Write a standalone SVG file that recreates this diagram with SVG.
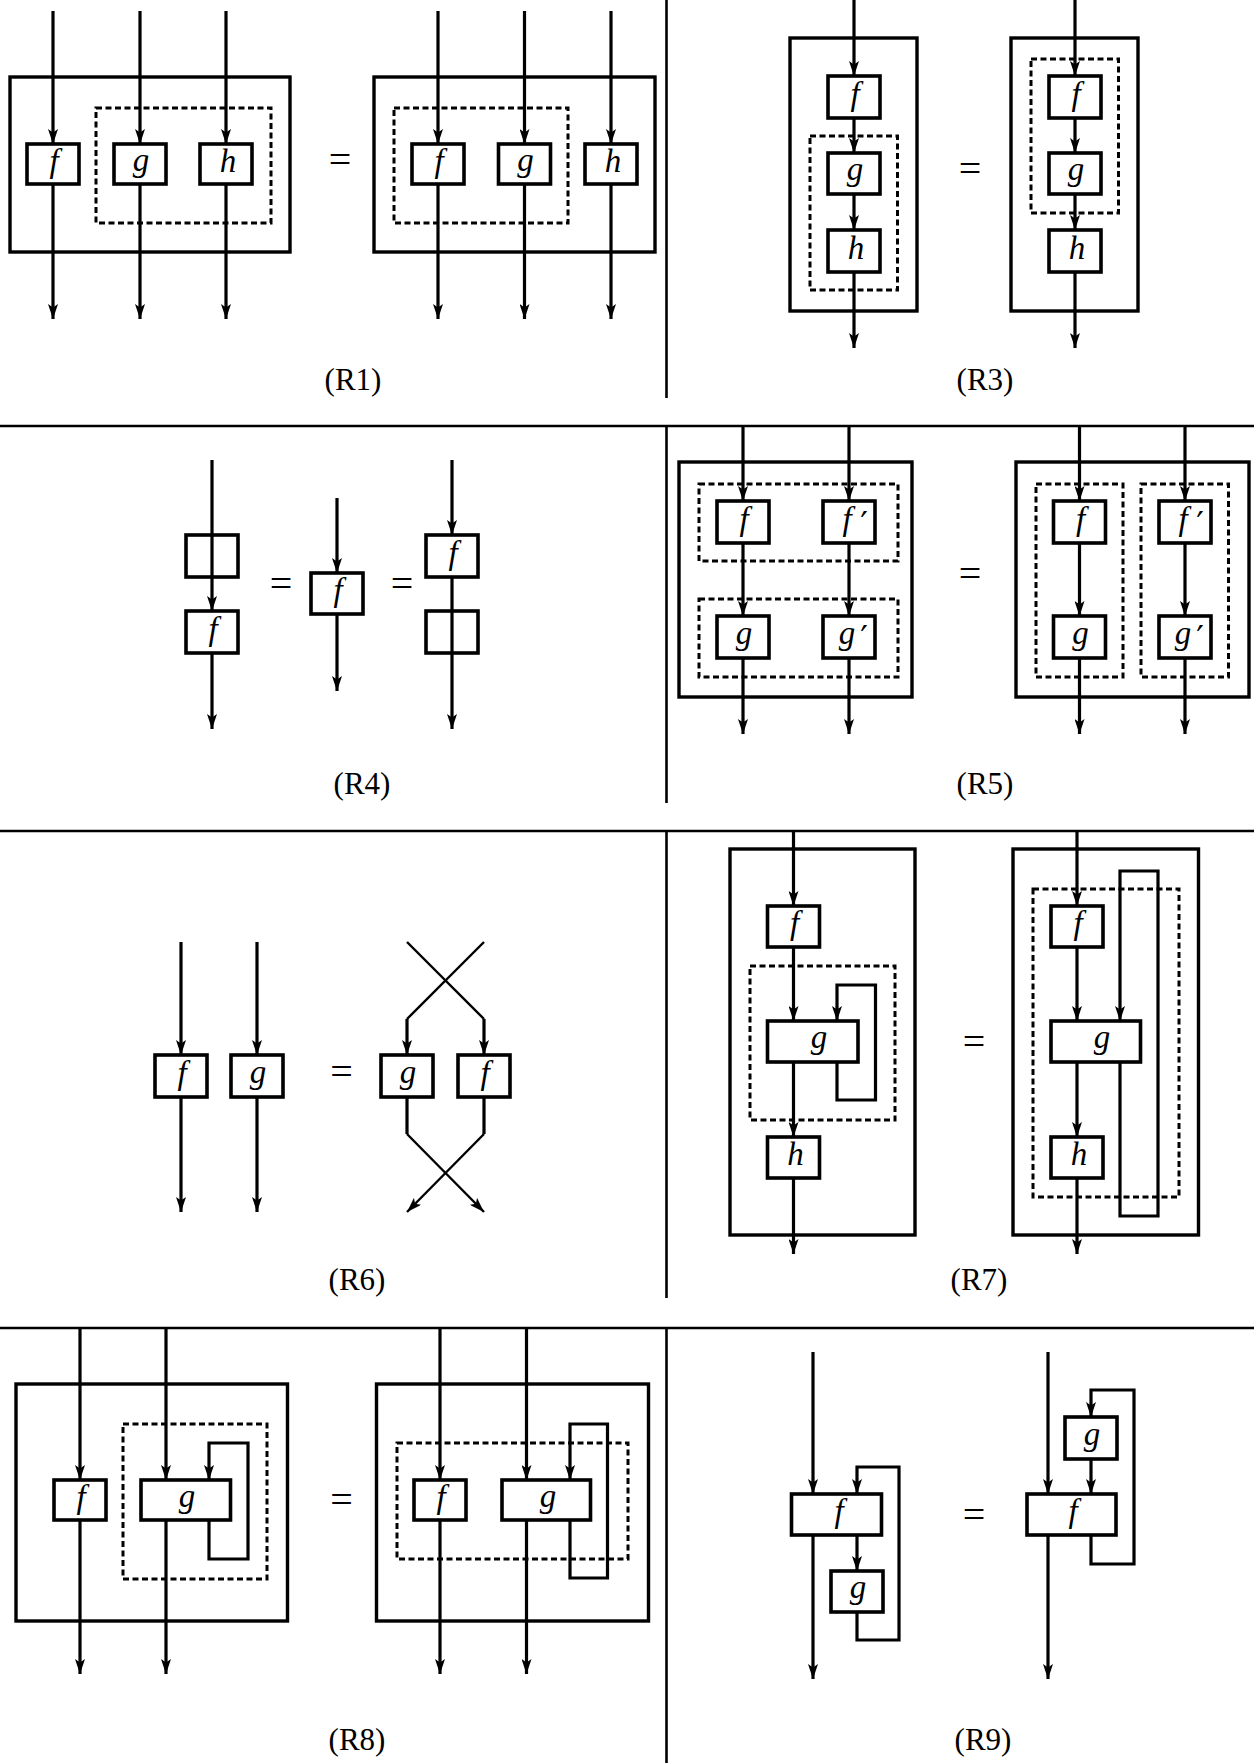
<svg xmlns="http://www.w3.org/2000/svg" width="1254" height="1763" viewBox="0 0 1254 1763">
<defs>
<marker id="ah" viewBox="0 0 15 10" refX="15" refY="5" markerWidth="15" markerHeight="10" markerUnits="userSpaceOnUse" orient="auto"><path d="M0,0 L15,5 L0,10 L3.5,5 Z" fill="#000"/></marker>
</defs>
<style>
.ln{stroke:#000;stroke-width:3.2;fill:none;marker-end:url(#ah)}
.lt{stroke:#000;stroke-width:2.4;fill:none}
.bx{stroke:#000;stroke-width:3.6;fill:#fff}
.be{stroke:#000;stroke-width:3.6;fill:none}
.bo{stroke:#000;stroke-width:3.4;fill:none}
.ds{stroke:#000;stroke-width:3;fill:none;stroke-dasharray:6 3.5}
.lb{font-family:"Liberation Serif","DejaVu Serif",serif;font-style:italic;font-size:33px;text-anchor:middle}
.pr{font-family:"DejaVu Sans",sans-serif;font-size:34px;text-anchor:middle}
.eq{font-family:"Liberation Serif",serif;font-size:40px;text-anchor:middle}
.cap{font-family:"Liberation Serif",serif;font-size:31px;text-anchor:middle}
.dv{stroke:#000;stroke-width:2.6;fill:none}
</style>
<rect width="1254" height="1763" fill="#fff"/>

<g id="dividers">
<path class="dv" d="M0,426 H1254 M0,831 H1254 M0,1328 H1254 M666.5,0 V398 M666.5,426 V803 M666.5,831 V1298 M666.5,1328 V1763"/>
</g>

<g id="containers">
<rect class="bo" x="10" y="77" width="280" height="175"/>
<rect class="ds" x="96" y="108" width="175" height="115"/>
<rect class="bo" x="374" y="77" width="281" height="175"/>
<rect class="ds" x="394" y="108" width="174" height="115"/>
<rect class="bo" x="790" y="38" width="127" height="273"/>
<rect class="ds" x="810" y="136" width="87.5" height="154"/>
<rect class="bo" x="1011" y="38" width="127" height="273"/>
<rect class="ds" x="1031" y="59" width="87.5" height="154"/>
<rect class="bo" x="679" y="462" width="233" height="235"/>
<rect class="ds" x="699" y="484" width="199" height="77"/>
<rect class="ds" x="699" y="599" width="199" height="78"/>
<rect class="bo" x="1016" y="462" width="233" height="235"/>
<rect class="ds" x="1036" y="484" width="87" height="193"/>
<rect class="ds" x="1141" y="484" width="87.5" height="193"/>
<rect class="bo" x="730" y="849" width="185" height="386"/>
<rect class="ds" x="750" y="966" width="145" height="154"/>
<rect class="bo" x="1013" y="849" width="185.5" height="386"/>
<rect class="ds" x="1033" y="889" width="146" height="308"/>
<rect class="bo" x="16" y="1384" width="271.5" height="237"/>
<rect class="ds" x="123" y="1424" width="144" height="155"/>
<rect class="bo" x="376.5" y="1384" width="272" height="237"/>
<rect class="ds" x="397" y="1443" width="231" height="116"/>
</g>

<g id="connectors">
<path class="ln" d="M53,11 V144"/><path class="ln" d="M53,184 V319"/>
<path class="ln" d="M140,11 V144"/><path class="ln" d="M140,184 V319"/>
<path class="ln" d="M226,11 V144"/><path class="ln" d="M226,184 V319"/>
<path class="ln" d="M438,11 V144"/><path class="ln" d="M438,184 V319"/>
<path class="ln" d="M524.5,11 V144"/><path class="ln" d="M524.5,184 V319"/>
<path class="ln" d="M611,11 V144"/><path class="ln" d="M611,184 V319"/>
<path class="ln" d="M854,0 V76"/><path class="ln" d="M854,118 V153"/><path class="ln" d="M854,194 V230"/><path class="ln" d="M854,272 V348"/>
<path class="ln" d="M1075,0 V76"/><path class="ln" d="M1075,118 V153"/><path class="ln" d="M1075,194 V230"/><path class="ln" d="M1075,272 V348"/>
<path class="ln" d="M212,460 V611"/><path class="ln" d="M212,653 V729"/>
<path class="ln" d="M337,498 V573"/><path class="ln" d="M337,614 V691"/>
<path class="ln" d="M452,460 V535"/><path class="ln" d="M452,577 V729"/>
<path class="ln" d="M743,425 V501"/><path class="ln" d="M743,543 V616"/><path class="ln" d="M743,658 V734"/>
<path class="ln" d="M849,425 V501"/><path class="ln" d="M849,543 V616"/><path class="ln" d="M849,658 V734"/>
<path class="ln" d="M1079.5,425 V501"/><path class="ln" d="M1079.5,543 V616"/><path class="ln" d="M1079.5,658 V734"/>
<path class="ln" d="M1185,425 V501"/><path class="ln" d="M1185,543 V616"/><path class="ln" d="M1185,658 V734"/>
<path class="ln" d="M181,942 V1055"/><path class="ln" d="M181,1097 V1212"/>
<path class="ln" d="M257,942 V1055"/><path class="ln" d="M257,1097 V1212"/>
<path class="lt" d="M407,942 L484,1019"/><path class="ln" d="M484,1019 V1055"/>
<path class="lt" d="M484,942 L407,1019"/><path class="ln" d="M407,1019 V1055"/>
<path class="ln" style="stroke-width:2.4" d="M407,1134 L484,1212"/>
<path class="ln" style="stroke-width:2.4" d="M484,1134 L407,1212"/>
<path class="lt" style="stroke-width:3.2" d="M407,1097 V1134 M484,1097 V1134"/>
<path class="ln" d="M793.5,830 V906"/><path class="ln" d="M793.5,947 V1021"/><path class="ln" d="M793.5,1062 V1137"/><path class="ln" d="M793.5,1178 V1254"/>
<path class="ln" d="M837,1062 V1100 H875.5 V985 H837 V1021"/>
<path class="ln" d="M1077,830 V906"/><path class="ln" d="M1077,947 V1021"/><path class="ln" d="M1077,1062 V1137"/><path class="ln" d="M1077,1178 V1254"/>
<path class="ln" d="M1120,1062 V1216 H1158 V871 H1120 V1021"/>
<path class="ln" d="M80,1327 V1480"/><path class="ln" d="M80,1520 V1674"/>
<path class="ln" d="M166,1327 V1480"/><path class="ln" d="M166,1520 V1674"/>
<path class="ln" d="M209,1520 V1559 H248 V1443 H209 V1480"/>
<path class="ln" d="M440,1327 V1480"/><path class="ln" d="M440,1520 V1674"/>
<path class="ln" d="M526.5,1327 V1480"/><path class="ln" d="M526.5,1520 V1674"/>
<path class="ln" d="M570,1520 V1578 H607.5 V1424 H570 V1480"/>
<path class="ln" d="M813,1352 V1494"/><path class="ln" d="M813,1535 V1679"/>
<path class="ln" d="M857,1535 V1571"/>
<path class="ln" d="M857,1612 V1640 H899 V1467 H857 V1494"/>
<path class="ln" d="M1048,1352 V1494"/><path class="ln" d="M1048,1535 V1679"/>
<path class="ln" d="M1091,1459 V1494"/>
<path class="ln" d="M1091,1535 V1564 H1134 V1390 H1091 V1417"/>
</g>

<g id="nodes">
<g id="r1l-f"><rect class="bx" x="27" y="144" width="52" height="40"/><text class="lb" x="54" y="172">f</text></g>
<g id="r1l-g"><rect class="bx" x="114" y="144" width="52" height="40"/><text class="lb" x="141" y="171">g</text></g>
<g id="r1l-h"><rect class="bx" x="200" y="144" width="52" height="40"/><text class="lb" x="228" y="172">h</text></g>
<g id="r1r-f"><rect class="bx" x="412" y="144" width="52" height="40"/><text class="lb" x="439" y="172">f</text></g>
<g id="r1r-g"><rect class="bx" x="498.5" y="144" width="52" height="40"/><text class="lb" x="525.5" y="171">g</text></g>
<g id="r1r-h"><rect class="bx" x="585" y="144" width="52" height="40"/><text class="lb" x="613" y="172">h</text></g>
<g id="r3l-f"><rect class="bx" x="828" y="76" width="52" height="42"/><text class="lb" x="855" y="105">f</text></g>
<g id="r3l-g"><rect class="bx" x="828" y="153" width="52" height="41"/><text class="lb" x="855" y="180">g</text></g>
<g id="r3l-h"><rect class="bx" x="828" y="230" width="52" height="42"/><text class="lb" x="856" y="259">h</text></g>
<g id="r3r-f"><rect class="bx" x="1049" y="76" width="52" height="42"/><text class="lb" x="1076" y="105">f</text></g>
<g id="r3r-g"><rect class="bx" x="1049" y="153" width="52" height="41"/><text class="lb" x="1076" y="180">g</text></g>
<g id="r3r-h"><rect class="bx" x="1049" y="230" width="52" height="42"/><text class="lb" x="1077" y="259">h</text></g>
<g id="r4a-e"><rect class="be" x="186" y="535" width="52" height="42"/></g>
<g id="r4a-f"><rect class="bx" x="186" y="611" width="52" height="42"/><text class="lb" x="213" y="640">f</text></g>
<g id="r4b-f"><rect class="bx" x="311" y="573" width="52" height="41"/><text class="lb" x="338" y="601">f</text></g>
<g id="r4c-f"><rect class="bx" x="426" y="535" width="52" height="42"/><text class="lb" x="453" y="564">f</text></g>
<g id="r4c-e"><rect class="be" x="426" y="611" width="52" height="42"/></g>
<g id="r5l-f"><rect class="bx" x="717" y="501" width="52" height="42"/><text class="lb" x="744" y="530">f</text></g>
<g id="r5l-f2"><rect class="bx" x="823" y="501" width="52" height="42"/><text class="lb" x="847" y="530">f</text><text class="pr" x="864" y="536">′</text></g>
<g id="r5l-g"><rect class="bx" x="717" y="616" width="52" height="42"/><text class="lb" x="744" y="644">g</text></g>
<g id="r5l-g2"><rect class="bx" x="823" y="616" width="52" height="42"/><text class="lb" x="847" y="644">g</text><text class="pr" x="864" y="650">′</text></g>
<g id="r5r-f"><rect class="bx" x="1053.5" y="501" width="52" height="42"/><text class="lb" x="1080.5" y="530">f</text></g>
<g id="r5r-f2"><rect class="bx" x="1159" y="501" width="52" height="42"/><text class="lb" x="1183" y="530">f</text><text class="pr" x="1200" y="536">′</text></g>
<g id="r5r-g"><rect class="bx" x="1053.5" y="616" width="52" height="42"/><text class="lb" x="1080.5" y="644">g</text></g>
<g id="r5r-g2"><rect class="bx" x="1159" y="616" width="52" height="42"/><text class="lb" x="1183" y="644">g</text><text class="pr" x="1200" y="650">′</text></g>
<g id="r6l-f"><rect class="bx" x="155" y="1055" width="52" height="42"/><text class="lb" x="182" y="1084">f</text></g>
<g id="r6l-g"><rect class="bx" x="231" y="1055" width="52" height="42"/><text class="lb" x="258" y="1083">g</text></g>
<g id="r6r-g"><rect class="bx" x="381" y="1055" width="52" height="42"/><text class="lb" x="408" y="1083">g</text></g>
<g id="r6r-f"><rect class="bx" x="458" y="1055" width="52" height="42"/><text class="lb" x="485" y="1084">f</text></g>
<g id="r7l-f"><rect class="bx" x="767.5" y="906" width="52" height="41"/><text class="lb" x="794.5" y="934">f</text></g>
<g id="r7l-g"><rect class="bx" x="767.5" y="1021" width="90.5" height="41"/><text class="lb" x="819" y="1048">g</text></g>
<g id="r7l-h"><rect class="bx" x="767.5" y="1137" width="52" height="41"/><text class="lb" x="795.5" y="1165">h</text></g>
<g id="r7r-f"><rect class="bx" x="1051" y="906" width="52" height="41"/><text class="lb" x="1078" y="934">f</text></g>
<g id="r7r-g"><rect class="bx" x="1051" y="1021" width="89.5" height="41"/><text class="lb" x="1102" y="1048">g</text></g>
<g id="r7r-h"><rect class="bx" x="1051" y="1137" width="52" height="41"/><text class="lb" x="1079" y="1165">h</text></g>
<g id="r8l-f"><rect class="bx" x="54" y="1480" width="52" height="40"/><text class="lb" x="81" y="1508">f</text></g>
<g id="r8l-g"><rect class="bx" x="141" y="1480" width="89.5" height="40"/><text class="lb" x="187" y="1507">g</text></g>
<g id="r8r-f"><rect class="bx" x="414" y="1480" width="52" height="40"/><text class="lb" x="441" y="1508">f</text></g>
<g id="r8r-g"><rect class="bx" x="502" y="1480" width="88.5" height="40"/><text class="lb" x="548" y="1507">g</text></g>
<g id="r9l-f"><rect class="bx" x="791.5" y="1494" width="90" height="41"/><text class="lb" x="839" y="1522">f</text></g>
<g id="r9l-g"><rect class="bx" x="831" y="1571" width="52" height="41"/><text class="lb" x="858" y="1598">g</text></g>
<g id="r9r-g"><rect class="bx" x="1065" y="1417" width="52" height="42"/><text class="lb" x="1092" y="1445">g</text></g>
<g id="r9r-f"><rect class="bx" x="1027" y="1494" width="89" height="41"/><text class="lb" x="1073" y="1522">f</text></g>
</g>

<g id="equals">
<text class="eq" x="340" y="173">=</text>
<text class="eq" x="970" y="182">=</text>
<text class="eq" x="281" y="597">=</text>
<text class="eq" x="402" y="597">=</text>
<text class="eq" x="970" y="587">=</text>
<text class="eq" x="341.5" y="1085">=</text>
<text class="eq" x="974" y="1055">=</text>
<text class="eq" x="341.5" y="1513">=</text>
<text class="eq" x="974" y="1528">=</text>
</g>

<g id="captions">
<text class="cap" x="353" y="390">(R1)</text>
<text class="cap" x="985" y="390">(R3)</text>
<text class="cap" x="362" y="794">(R4)</text>
<text class="cap" x="985" y="794">(R5)</text>
<text class="cap" x="357" y="1290">(R6)</text>
<text class="cap" x="979" y="1290">(R7)</text>
<text class="cap" x="357" y="1750">(R8)</text>
<text class="cap" x="983" y="1750">(R9)</text>
</g>
</svg>
